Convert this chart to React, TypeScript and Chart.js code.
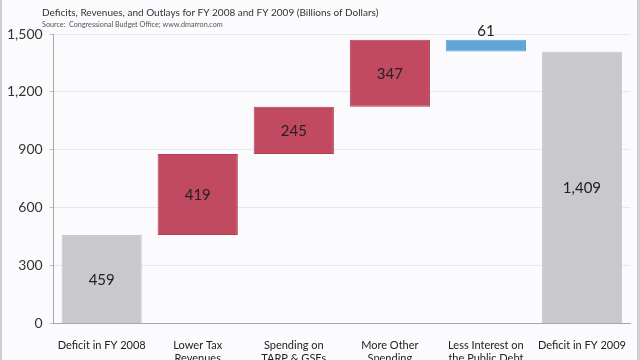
import React, { useEffect, useRef } from "react";
import { Chart, registerables } from "chart.js";

Chart.register(...registerables);

const categories: string[][] = [
  ["Deficit in FY 2008"],
  ["Lower Tax", "Revenues"],
  ["Spending on", "TARP & GSEs"],
  ["More Other", "Spending"],
  ["Less Interest on", "the Public Debt"],
  ["Deficit in FY 2009"],
];
const deficit2008 = 459;
const changes = [419, 245, 347, -61];
const deficit2009 = 1409;
const yTicks = [0, 300, 600, 900, 1200, 1500];

const subtitle = "Deficits, Revenues, and Outlays for FY 2008 and FY 2009 (Billions of Dollars)";
const sourceText = "Source:  Congressional Budget Office; www.dmarron.com";

const GRAY = "#c9c8cc";
const RED = "#c24a60";
const BLUE = "#5fa5d6";

export default function App() {
  const ref = useRef<HTMLCanvasElement>(null);
  useEffect(() => {
    if (!ref.current) return;
    const floats: [number, number][] = [];
    const labels: number[] = [];
    const colors: string[] = [];
    const borders: string[] = [];
    floats.push([0, deficit2008]);
    labels.push(deficit2008);
    colors.push(GRAY);
    borders.push(GRAY);
    let run = deficit2008;
    for (const c of changes) {
      const next = run + c;
      floats.push([Math.min(run, next), Math.max(run, next)]);
      labels.push(Math.abs(c));
      colors.push(c >= 0 ? RED : BLUE);
      borders.push(c >= 0 ? "#b33d54" : BLUE);
      run = next;
    }
    floats.push([0, deficit2009]);
    labels.push(deficit2009);
    colors.push(GRAY);
    borders.push(GRAY);

    const fmt = (v: number) => v.toLocaleString("en-US");

    const headerPlugin = {
      id: "header",
      beforeDraw(chart: any) {
        const ctx = chart.ctx;
        ctx.save();
        ctx.fillStyle = "#fbfafd";
        ctx.fillRect(0, 0, chart.width, chart.height);
        ctx.restore();
      },
      afterDraw(chart: any) {
        const ctx = chart.ctx;
        ctx.save();
        ctx.fillStyle = "#333";
        ctx.textBaseline = "middle";
        ctx.textAlign = "left";
        ctx.font = "10px Lato";
        ctx.fillText(subtitle, 42, 13);
        ctx.font = "7.2px Lato";
        ctx.fillStyle = "#555";
        ctx.fillText(sourceText, 42, 25);
        // data labels
        const meta = chart.getDatasetMeta(0);
        ctx.font = "15px Lato";
        ctx.fillStyle = "#222";
        ctx.textAlign = "center";
        meta.data.forEach((bar: any, i: number) => {
          const props = bar.getProps(["x", "y", "base"], true);
          const top = Math.min(props.y, props.base);
          const bottom = Math.max(props.y, props.base);
          if (bottom - top < 20) {
            ctx.textBaseline = "bottom";
            ctx.fillText(fmt(labels[i]), props.x, top - 1);
          } else {
            ctx.textBaseline = "middle";
            ctx.fillText(fmt(labels[i]), props.x, (top + bottom) / 2 + 1);
          }
        });
        ctx.restore();
      },
    };

    const chart = new Chart(ref.current, {
      type: "bar",
      data: {
        labels: categories,
        datasets: [
          {
            data: floats as any,
            backgroundColor: colors,
            borderColor: borders,
            borderWidth: 1,
            borderSkipped: false,
            barPercentage: 0.835,
            categoryPercentage: 1,
          },
        ],
      },
      options: {
        animation: false,
        responsive: false,
        maintainAspectRatio: false,
        layout: { padding: { top: 34, right: 10, left: 0, bottom: 0 } },
        plugins: { legend: { display: false }, tooltip: { enabled: false } },
        scales: {
          x: {
            grid: { display: false },
            border: { color: "#a8a8a8" },
            ticks: {
              font: { family: "Lato", size: 11 },
              color: "#222",
              maxRotation: 0,
              autoSkip: false,
              padding: 7,
            },
          },
          y: {
            min: 0,
            max: 1500,
            afterBuildTicks: (axis: any) => {
              axis.ticks = yTicks.map((v) => ({ value: v }));
            },
            grid: { color: "#e8e8ec", tickLength: 4, tickColor: "#bbb" },
            border: { color: "#a8a8a8" },
            ticks: {
              font: { family: "Lato", size: 14 },
              color: "#333",
              padding: 7,
              callback: (v: any) => fmt(Number(v)),
            },
          },
        },
      },
      plugins: [headerPlugin],
    });
    return () => chart.destroy();
  }, []);

  return (
    <div
      style={{
        position: "fixed",
        left: 0,
        top: 0,
        width: 640,
        height: 360,
        overflow: "hidden",
        background: "#fbfafd",
      }}
    >
      <canvas ref={ref} width={640} height={372} style={{ display: "block" }} />
      <div style={{ position: "absolute", left: 0, top: 0, width: 2, height: 360, background: "#cfcfd2" }} />
      <div style={{ position: "absolute", right: 0, top: 0, width: 3, height: 360, background: "#cfcfd2" }} />
    </div>
  );
}
